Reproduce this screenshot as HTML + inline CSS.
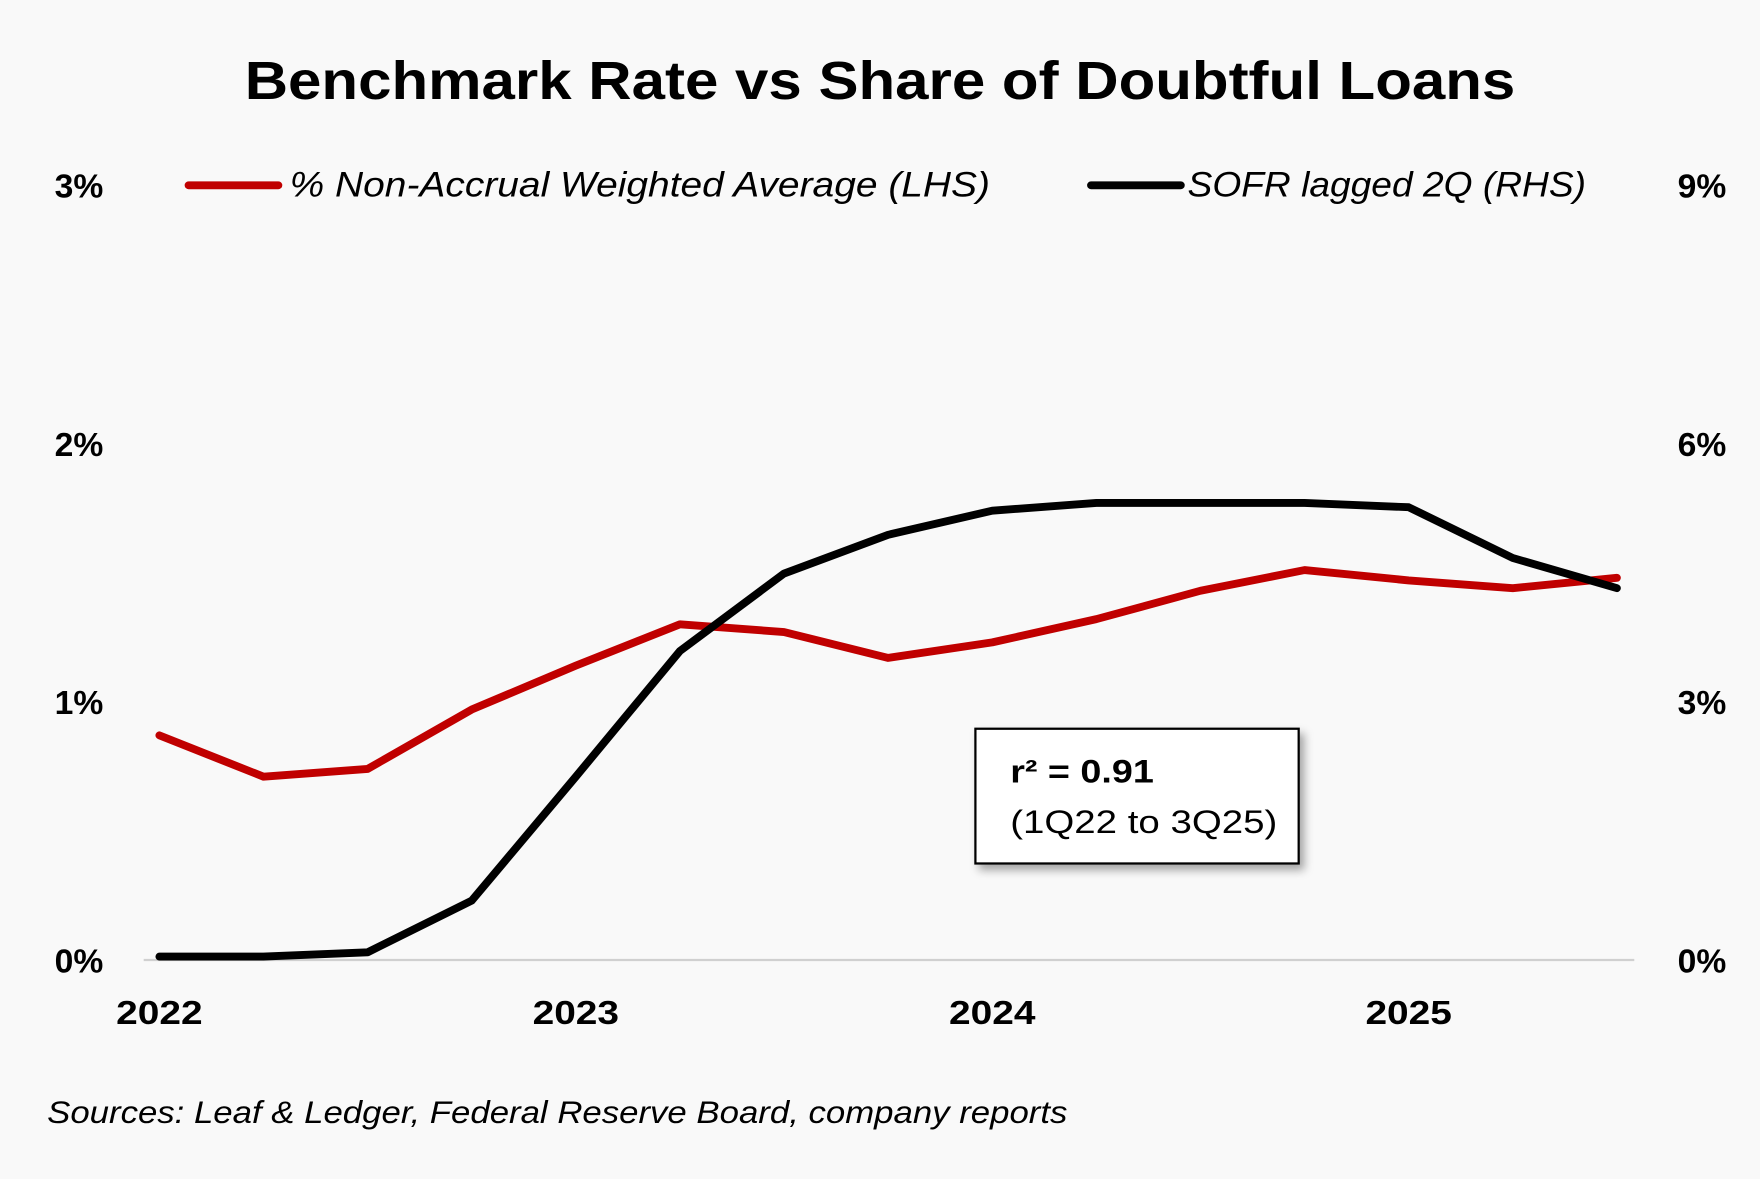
<!DOCTYPE html>
<html><head><meta charset="utf-8"><style>
html,body{margin:0;padding:0;background:#f9f9f9;}
svg{display:block;font-family:"Liberation Sans",sans-serif;}
</style></head><body>
<svg id="chart" width="1760" height="1179" viewBox="0 0 1568 1050" preserveAspectRatio="none">
<defs><filter id="sh" x="-20%" y="-20%" width="150%" height="150%"><feDropShadow dx="4" dy="5" stdDeviation="4" flood-color="#000" flood-opacity="0.35"/></filter></defs>
<rect width="1568" height="1050" fill="#f9f9f9"/>
<text x="218" y="88" font-size="48" font-weight="bold" fill="#000" textLength="1132" lengthAdjust="spacingAndGlyphs">Benchmark Rate vs Share of Doubtful Loans</text>
<g>
<line x1="168" y1="165" x2="248" y2="165" stroke="#c00000" stroke-width="7" stroke-linecap="round"/>
<text x="258" y="175" font-size="31" font-style="italic" textLength="624" lengthAdjust="spacingAndGlyphs">% Non-Accrual Weighted Average (LHS)</text>
<line x1="972" y1="165" x2="1052" y2="165" stroke="#000" stroke-width="7" stroke-linecap="round"/>
<text x="1058" y="175" font-size="31" font-style="italic" textLength="355" lengthAdjust="spacingAndGlyphs">SOFR lagged 2Q (RHS)</text>
</g>
<line x1="128" y1="855" x2="1456" y2="855" stroke="#d0d0d0" stroke-width="2"/>
<g id="ticks"></g>
<g id="series"></g>
<g>
<rect x="869" y="649" width="288" height="120" fill="#fff" stroke="#000" stroke-width="2" filter="url(#sh)"/>
<text x="900" y="697" font-size="29" font-weight="bold" textLength="128" lengthAdjust="spacingAndGlyphs">r² = 0.91</text>
<text x="900" y="742" font-size="29" textLength="238" lengthAdjust="spacingAndGlyphs">(1Q22 to 3Q25)</text>
</g>
<text x="42" y="1000" font-size="28" font-style="italic" textLength="909" lengthAdjust="spacingAndGlyphs">Sources: Leaf &amp; Ledger, Federal Reserve Board, company reports</text>
</svg>
<script>
const quarters = ["1Q22","2Q22","3Q22","4Q22","1Q23","2Q23","3Q23","4Q23","1Q24","2Q24","3Q24","4Q24","1Q25","2Q25","3Q25"];
const nonAccrual = [0.87,0.71,0.74,0.97,1.14,1.30,1.27,1.17,1.23,1.32,1.43,1.51,1.47,1.44,1.48];
const sofrLagged = [0.04,0.04,0.09,0.69,2.13,3.59,4.49,4.94,5.22,5.31,5.31,5.31,5.26,4.67,4.32];
const leftTicks = [0,1,2,3];
const rightTicks = [0,3,6,9];
const yearLabels = ["2022","2023","2024","2025"];
const NS="http://www.w3.org/2000/svg";
function xq(i){return 142+i*92.75;}
function yL(v){return 855-v*230;}
function yR(v){return 855-v/3*230;}
const tg=document.getElementById('ticks');
function txt(x,y,s,anchor,name,len){const t=document.createElementNS(NS,'text');t.setAttribute('x',x);t.setAttribute('y',y);t.setAttribute('font-size','30');t.setAttribute('font-weight','bold');t.setAttribute('text-anchor',anchor);if(len){t.setAttribute('textLength',len);t.setAttribute('lengthAdjust','spacingAndGlyphs');}t.textContent=s;


tg.appendChild(t);}
leftTicks.forEach(v=>txt(92,yL(v)+11,v+'%','end','left-tick-label'));
rightTicks.forEach(v=>txt(1538,yR(v)+11,v+'%','end','right-tick-label'));
yearLabels.forEach((s,k)=>txt(xq(k*4),912,s,'middle','x-tick-label',77));
const sg=document.getElementById('series');
function line(vals,fy,color,name){const p=document.createElementNS(NS,'polyline');p.setAttribute('points',vals.map((v,i)=>xq(i)+','+fy(v)).join(' '));p.setAttribute('fill','none');p.setAttribute('stroke',color);p.setAttribute('stroke-width','7');p.setAttribute('stroke-linejoin','round');p.setAttribute('stroke-linecap','round');


sg.appendChild(p);}
line(nonAccrual,yL,'#c00000','non-accrual-line');
line(sofrLagged,yR,'#000','sofr-line');
</script>
</body></html>
